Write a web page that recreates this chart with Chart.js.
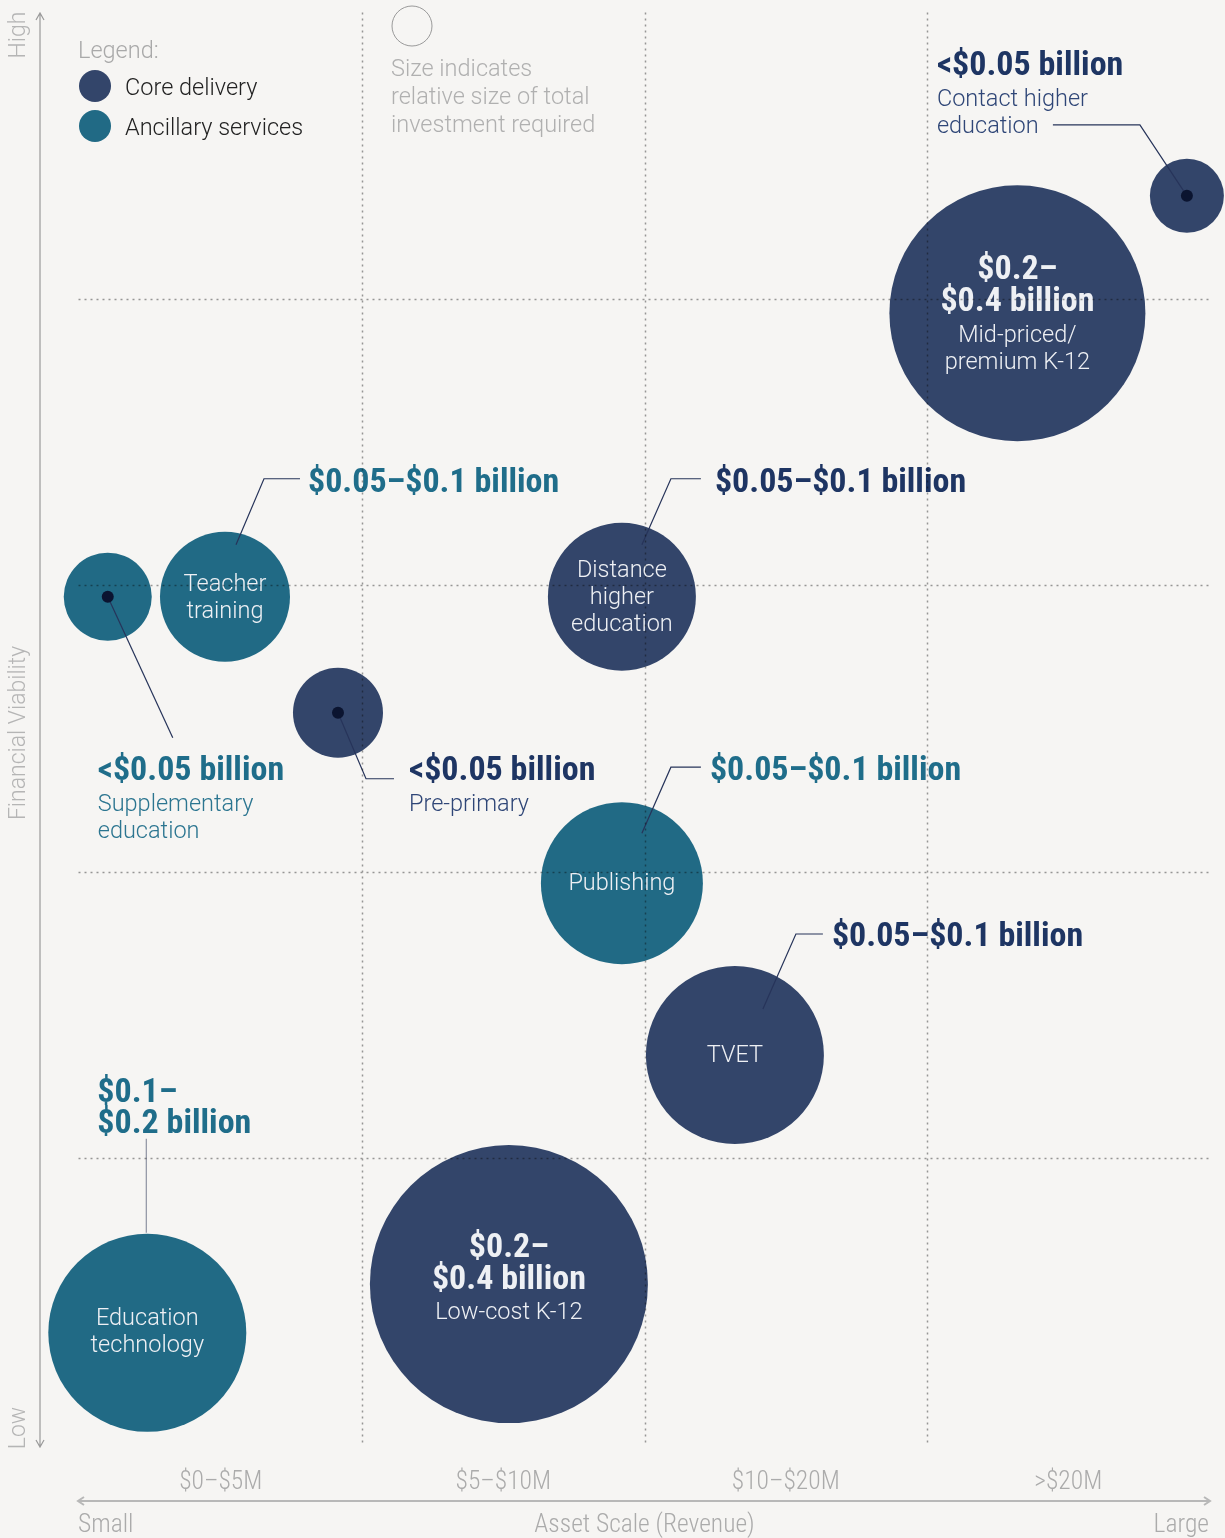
<!DOCTYPE html>
<html lang="en">
<head>
<meta charset="UTF-8">
<title>Asset scale vs financial viability</title>
<script src="https://cdn.jsdelivr.net/npm/chart.js"></script>
<style>
  body { margin: 0; background: #f6f5f3; }
  .chart-box { width: 1225px; height: 1538px; }
</style>
</head>
<body>
<div class="chart-box"><canvas id="segmentChart"></canvas></div>
<script>
// x: asset scale bands (0..4), y: financial viability (0 low .. 5 high), r: bubble radius
const revenueBands = ['$0–$5M', '$5–$10M', '$10–$20M', '>$20M'];

const coreNames = [['Contact higher', 'education'], ['Mid-priced/', 'premium K-12'], ['Distance', 'higher', 'education'], ['Pre-primary'], ['TVET'], ['Low-cost K-12']];
const coreX = [3.92, 3.32, 1.92, 0.915, 2.32, 1.52];
const coreY = [4.36, 3.95, 2.96, 2.555, 1.36, 0.56];
const coreR = [37, 128, 74, 45, 89, 139];
const coreInvest = [['<$0.05 billion'], ['$0.2–', '$0.4 billion'], ['$0.05–$0.1 billion'], ['<$0.05 billion'], ['$0.05–$0.1 billion'], ['$0.2–', '$0.4 billion']];

const ancNames = [['Teacher', 'training'], ['Supplementary', 'education'], ['Publishing'], ['Education', 'technology']];
const ancX = [0.515, 0.10, 1.92, 0.24];
const ancY = [2.96, 2.96, 1.96, 0.39];
const ancR = [65, 44, 81, 99];
const ancInvest = [['$0.05–$0.1 billion'], ['<$0.05 billion'], ['$0.05–$0.1 billion'], ['$0.1–', '$0.2 billion']];

// label placement, offsets in px from the bubble centre
// inAmt/inName: text inside bubble; path: leader line; tx/amtY/nameY: text outside
const coreLayout = [
  { dot: true, path: [[0, 0], [-47, -71], [-134, -71]], tx: -250, amtY: -133, nameY: -98 },
  { inAmt: -47, inName: 21 },
  { inName: -28, path: [[20, -52], [49, -118], [79, -118]], tx: 93, amtY: -117 },
  { dot: true, path: [[0, 0], [28, 66], [56, 66]], tx: 71, amtY: 55, nameY: 90 },
  { inName: -1, path: [[28, -46], [61, -121], [88, -121]], tx: 97, amtY: -121 },
  { inAmt: -40, inName: 27 }
];
const ancLayout = [
  { inName: -14, path: [[11, -52], [39, -118], [75, -118]], tx: 83, amtY: -117 },
  { dot: true, path: [[0, 0], [65, 141]], tx: -10, amtY: 171, nameY: 206 },
  { inName: -1, path: [[20, -50], [49, -116], [79, -116]], tx: 88, amtY: -116 },
  { inName: -16, path: [[-1, -100], [-1, -194]], tx: -50, amtY: -243, lineColor: '#8d91a1' }
];

const CORE = '#33456a';
const ANC = '#216a85';
const BOLD = 'bold 34px "Roboto Condensed", "Liberation Sans Narrow", "DejaVu Sans Condensed", sans-serif';
const LIGHT = '300 23.5px Roboto, "Open Sans", sans-serif';
const AXIS = '300 25.5px "Roboto Condensed", "Liberation Sans Narrow", "DejaVu Sans Condensed", sans-serif';
// 'middle' baseline sits a little high for these faces
const BOLD_DY = 4, LIGHT_DY = 2;

function toPoints(xs, ys, rs) {
  return xs.map((x, i) => ({ x: x, y: ys[i], r: rs[i] }));
}

function lines(ctx, arr, x, y, step) {
  arr.forEach((t, i) => ctx.fillText(t, x, y + i * step));
}

const overlay = {
  id: 'overlay',
  beforeDraw(chart) {
    const ctx = chart.ctx;
    ctx.save();
    ctx.fillStyle = '#f6f5f3';
    ctx.fillRect(0, 0, chart.width, chart.height);
    ctx.restore();
  },
  afterDatasetsDraw(chart) {
    const ctx = chart.ctx;
    const xs = chart.scales.x, ys = chart.scales.y;
    const area = chart.chartArea;
    ctx.save();
    ctx.textBaseline = 'middle';

    const groups = [
      { meta: chart.getDatasetMeta(0), names: coreNames, invest: coreInvest, layout: coreLayout, amtColor: '#1e3563', nameColor: '#2f4677' },
      { meta: chart.getDatasetMeta(1), names: ancNames, invest: ancInvest, layout: ancLayout, amtColor: '#1f6d8a', nameColor: '#2b7590' }
    ];

    groups.forEach(g => {
      g.meta.data.forEach((el, i) => {
        const cx = el.x, cy = el.y, L = g.layout[i];
        if (L.path) {
          ctx.strokeStyle = L.lineColor || '#27345a';
          ctx.lineWidth = 1.2;
          ctx.beginPath();
          L.path.forEach((p, k) => k ? ctx.lineTo(cx + p[0], cy + p[1]) : ctx.moveTo(cx + p[0], cy + p[1]));
          ctx.stroke();
        }
        if (L.dot) {
          ctx.fillStyle = '#0b1430';
          ctx.beginPath();
          ctx.arc(cx, cy, 6, 0, Math.PI * 2);
          ctx.fill();
        }
        // text inside the bubble
        ctx.fillStyle = '#eef0f4';
        ctx.textAlign = 'center';
        if (L.inAmt !== undefined) {
          ctx.font = BOLD;
          lines(ctx, g.invest[i], cx, cy + L.inAmt + BOLD_DY, 32);
        }
        if (L.inName !== undefined) {
          ctx.font = LIGHT;
          lines(ctx, g.names[i], cx, cy + L.inName + LIGHT_DY, 27);
        }
        // text outside with the leader
        ctx.textAlign = 'left';
        if (L.amtY !== undefined) {
          ctx.font = BOLD;
          ctx.fillStyle = g.amtColor;
          lines(ctx, g.invest[i], cx + L.tx, cy + L.amtY + BOLD_DY, 31);
        }
        if (L.nameY !== undefined) {
          ctx.font = LIGHT;
          ctx.fillStyle = g.nameColor;
          lines(ctx, g.names[i], cx + L.tx, cy + L.nameY + LIGHT_DY, 27);
        }
      });
    });

    // legend
    ctx.font = LIGHT;
    ctx.textAlign = 'left';
    ctx.fillStyle = '#a9a9a9';
    ctx.fillText('Legend:', 78, 52);
    [[CORE, 'Core delivery', 86], [ANC, 'Ancillary services', 126]].forEach(([c, t, y]) => {
      ctx.fillStyle = c;
      ctx.beginPath();
      ctx.arc(95, y, 16, 0, Math.PI * 2);
      ctx.fill();
      ctx.fillStyle = '#222';
      ctx.fillText(t, 125, y + 3);
    });

    // size key
    ctx.strokeStyle = '#9a9a9a';
    ctx.lineWidth = 1;
    ctx.beginPath();
    ctx.arc(412, 26, 20, 0, Math.PI * 2);
    ctx.stroke();
    ctx.fillStyle = '#b0b0b0';
    lines(ctx, ['Size indicates', 'relative size of total', 'investment required'], 391, 70, 28);

    // y axis arrow and labels
    ctx.strokeStyle = '#9a9a9a';
    ctx.lineWidth = 1.2;
    ctx.beginPath();
    ctx.moveTo(40, 13); ctx.lineTo(40, 1447);
    ctx.moveTo(36, 20); ctx.lineTo(40, 13); ctx.lineTo(44, 20);
    ctx.moveTo(36, 1440); ctx.lineTo(40, 1447); ctx.lineTo(44, 1440);
    ctx.stroke();
    ctx.fillStyle = '#b5b5b5';
    ctx.font = '300 23px Roboto, sans-serif';
    ctx.textAlign = 'center';
    [['High', 35], ['Financial Viability', 733], ['Low', 1428]].forEach(([t, y]) => {
      ctx.save();
      ctx.translate(19, y);
      ctx.rotate(-Math.PI / 2);
      ctx.fillText(t, 0, 0);
      ctx.restore();
    });

    // x axis arrow, band labels and title
    ctx.strokeStyle = '#b8b8b8';
    ctx.lineWidth = 2;
    ctx.beginPath();
    ctx.moveTo(78, 1501); ctx.lineTo(1210, 1501);
    ctx.moveTo(84, 1497); ctx.lineTo(78, 1501); ctx.lineTo(84, 1505);
    ctx.moveTo(1204, 1497); ctx.lineTo(1210, 1501); ctx.lineTo(1204, 1505);
    ctx.stroke();
    ctx.font = AXIS;
    ctx.fillStyle = '#ababab';
    revenueBands.forEach((t, i) => ctx.fillText(t, xs.getPixelForValue(i + 0.5), 1483));
    ctx.fillText('Asset Scale (Revenue)', (area.left + area.right) / 2, 1526);
    ctx.textAlign = 'left';
    ctx.fillText('Small', 78, 1526);
    ctx.textAlign = 'right';
    ctx.fillText('Large', 1209, 1526);

    // dotted band dividers on top of everything
    ctx.globalCompositeOperation = 'multiply';
    ctx.strokeStyle = '#9c9c9c';
    ctx.lineWidth = 1.5;
    ctx.setLineDash([2, 4]);
    ctx.beginPath();
    for (let v = 1; v < 4; v++) {
      const px = Math.round(xs.getPixelForValue(v)) + 0.5;
      ctx.moveTo(px, area.top); ctx.lineTo(px, area.bottom);
    }
    for (let v = 1; v < 5; v++) {
      const py = Math.round(ys.getPixelForValue(v)) + 0.5;
      ctx.moveTo(area.left - 1, py); ctx.lineTo(area.right, py);
    }
    ctx.stroke();
    ctx.restore();
  }
};

new Chart(document.getElementById('segmentChart'), {
  type: 'bubble',
  data: {
    datasets: [
      { label: 'Core delivery', data: toPoints(coreX, coreY, coreR), backgroundColor: CORE, borderWidth: 0, hoverRadius: 0, clip: false },
      { label: 'Ancillary services', data: toPoints(ancX, ancY, ancR), backgroundColor: ANC, borderWidth: 0, hoverRadius: 0, clip: false }
    ]
  },
  options: {
    responsive: true,
    maintainAspectRatio: false,
    animation: false,
    layout: { autoPadding: false, padding: { left: 79.5, right: 15.5, top: 12.5, bottom: 93.5 } },
    scales: {
      x: { type: 'linear', min: 0, max: 4, display: false },
      y: { type: 'linear', min: 0, max: 5, display: false }
    },
    plugins: { legend: { display: false }, tooltip: { enabled: false } }
  },
  plugins: [overlay]
});
</script>
</body>
</html>
